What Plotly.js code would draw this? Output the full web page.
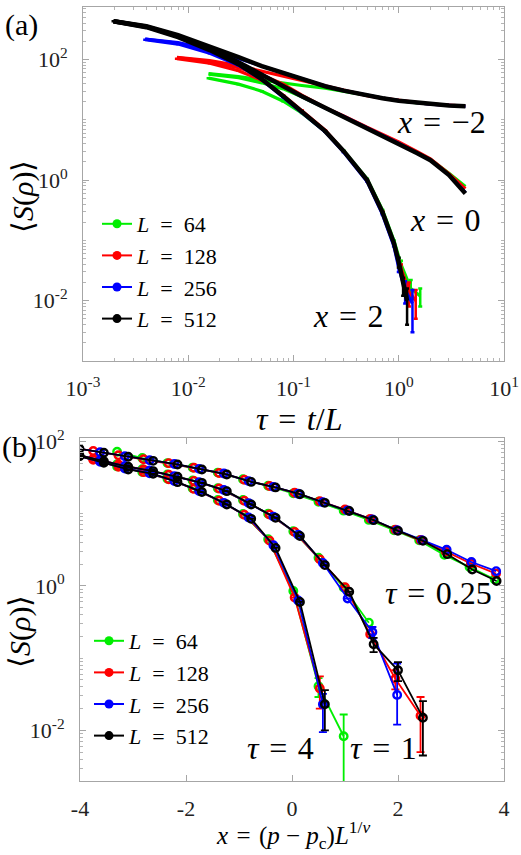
<!DOCTYPE html>
<html>
<head>
<meta charset="utf-8">
<script src="https://cdn.plot.ly/plotly-3.0.1.min.js"></script>
<style>
  html, body { margin: 0; padding: 0; background: #fff; }
  #fig { width: 521px; height: 855px; }
</style>
</head>
<body>
<div id="fig"></div>
<script>
// ---------- panel (a): <S(rho)> versus tau = t/L ----------
const sizes = [64, 128, 256, 512];
const colors = ['#00ee00', '#ff0000', '#0000ff', '#000000'];

// L = 64
const tau64 = [0.0156, 0.03, 0.05, 0.08, 0.12, 0.2, 0.3, 0.5, 0.7, 1, 1.5, 2, 3, 4.3];
const sA64_xm2 = [58.2, 52, 45.5, 40.5, 37, 33.4, 29.6, 25.0, 22.8, 20.7, 19.1, 18.1, 17.3, 16.9];
const sA64_x0 = [57, 50, 41, 32.5, 24, 15.6, 11.2, 7.3, 5.5, 4.1, 2.85, 2.2, 1.3, 0.78];
const tau64_x2 = [0.0156, 0.03, 0.05, 0.08, 0.12, 0.2, 0.3, 0.5, 0.7, 0.9, 1.05, 1.3, 1.6];
const sA64_x2 = [49, 39, 29.8, 20.3, 13.0, 6.4, 3.05, 1.05, 0.32, 0.1, 0.04, 0.016, 0.012];
const eA64_x2 = [null, null, null, null, null, null, null, null, null, null, 0.006, 0.006, 0.004];

// L = 128
const tau128 = [0.0078, 0.016, 0.03, 0.05, 0.08, 0.12, 0.2, 0.3, 0.5, 0.7, 1, 1.5, 2, 3, 4.3];
const sA128_xm2 = [108, 95.5, 78.9, 64, 53.8, 45.4, 36, 30.4, 25.2, 22.9, 20.8, 19.2, 18.2, 17.3, 16.8];
const sA128_x0 = [107, 92, 73.1, 55, 38.9, 25.6, 15.9, 11.6, 7.5, 5.7, 4.3, 2.95, 2.25, 1.28, 0.72];
const tau128_x2 = [0.0078, 0.016, 0.03, 0.05, 0.08, 0.12, 0.2, 0.3, 0.5, 0.7, 0.9, 1.05, 1.25, 1.45];
const sA128_x2 = [103, 86.9, 65.2, 45.4, 25.6, 14.4, 6.73, 3.0, 1.0, 0.30, 0.09, 0.035, 0.014, 0.010];
const eA128_x2 = [null, null, null, null, null, null, null, null, null, null, null, 0.005, 0.006, 0.005];

// L = 256
const tau256 = [0.0039, 0.008, 0.016, 0.03, 0.05, 0.08, 0.12, 0.2, 0.3, 0.5, 0.7, 1, 1.5, 2, 3, 4.3];
const sA256_xm2 = [217, 190, 146, 103, 76, 59, 47, 36.2, 30.5, 25.2, 22.9, 20.8, 19.1, 18.1, 17.3, 16.7];
const sA256_x0 = [217, 186, 137, 89, 56.5, 35.8, 24.3, 15.7, 11.4, 7.3, 5.5, 4.05, 2.8, 2.15, 1.22, 0.62];
const tau256_x2 = [0.0039, 0.008, 0.016, 0.03, 0.05, 0.08, 0.12, 0.2, 0.3, 0.5, 0.7, 0.9, 1.0, 1.15, 1.35];
const sA256_x2 = [213, 180, 127, 80.4, 46.2, 23.7, 13.5, 6.3, 2.9, 0.95, 0.27, 0.08, 0.035, 0.015, 0.009];
const eA256_x2 = [null, null, null, null, null, null, null, null, null, null, null, null, 0.005, 0.006, 0.006];

// L = 512
const tau512 = [0.00195, 0.004, 0.008, 0.016, 0.03, 0.05, 0.08, 0.12, 0.2, 0.3, 0.5, 0.7, 1, 1.5, 2, 3, 4.3];
const sA512_xm2 = [431, 357, 253, 166, 109, 77.4, 59.3, 47.1, 36.0, 30.4, 25.1, 22.8, 20.7, 19.1, 18.1, 17.3, 16.8];
const sA512_x0 = [431, 350, 243, 154, 90.2, 57.0, 36.1, 24.6, 15.9, 11.5, 7.40, 5.56, 4.09, 2.79, 2.14, 1.21, 0.6];
const tau512_x2 = [0.00195, 0.004, 0.008, 0.016, 0.03, 0.05, 0.08, 0.12, 0.2, 0.3, 0.5, 0.7, 0.9, 1.0, 1.1, 1.2];
const sA512_x2 = [431, 343, 234, 143, 83.6, 47.1, 24.6, 13.9, 6.48, 3.02, 1.0, 0.294, 0.090, 0.0435, 0.0181, 0.010];
const eA512_x2 = [null, null, null, null, null, null, null, null, null, null, null, null, null, 0.008, 0.006, 0.006];

// ---------- panel (b): <S(rho)> versus scaling variable x ----------
const xs64 = [-3.3, -2.825, -2.35, -1.875, -1.4, -0.925, -0.45, 0.025, 0.5, 0.975, 1.45, 1.925, 2.4, 2.875, 3.35, 3.825];
const sB64_t025 = [72, 58.9, 50.1, 43.4, 37.0, 29.9, 24.3, 19.1, 14.6, 11.0, 8.2, 5.9, 4.27, 2.69, 1.82, 1.23];
const sB64_t1 = [48.3, 41.2, 34.9, 28.8, 22.5, 15.5, 9.95, 5.73, 2.45, 0.95, 0.31, null, null, null, null, null];
const sB64_t4 = [45.1, 37.8, 30.4, 22.4, 15.5, 9.9, 4.43, 0.85, 0.041, 0.0083, null, null, null, null, null, null];
const eB64_t4 = [null, null, null, null, null, null, null, null, 0.012, 0.0083, null, null, null, null, null, null];
const eB64_t4m = [null, null, null, null, null, null, null, null, 0.012, 0.00825, null, null, null, null, null, null];

const xs128 = [-4.225, -3.75, -3.275, -2.8, -2.325, -1.85, -1.375, -0.9, -0.425, 0.05, 0.525, 1.0, 1.475, 1.95, 2.425, 2.9, 3.375, 3.85];
const sB128_t025 = [83.8, 73.5, 64.4, 56.6, 50.0, 43.1, 36.6, 29.5, 24.1, 19.5, 14.9, 11.4, 8.47, 6.0, 4.33, 3.0, 2.04, 1.48];
const sB128_t1 = [69.7, 57.7, 47.9, 40.8, 34.5, 28.4, 22.3, 15.1, 9.72, 5.56, 2.33, 0.96, 0.214, 0.052, 0.016, null, null, null];
const eB128_t1 = [null, null, null, null, null, null, null, null, null, null, null, null, null, 0.016, 0.013, null, null, null];
const eB128_t1m = [null, null, null, null, null, null, null, null, null, null, null, null, null, 0.015, 0.011, null, null, null];
const sB128_t4 = [69, 55.5, 44.6, 37.5, 30.0, 22.0, 15.1, 9.64, 4.24, 0.69, 0.038, null, null, null, null, null, null, null];
const eB128_t4 = [null, null, null, null, null, null, null, null, null, null, 0.018, null, null, null, null, null, null, null];

const xs256 = [-4.09, -3.62, -3.153, -2.686, -2.219, -1.752, -1.285, -0.818, -0.351, 0.116, 0.583, 1.05, 1.517, 1.984, 2.451, 2.918, 3.385, 3.852];
const sB256_t025 = [80.7, 70.8, 62.3, 54.8, 48.7, 41.7, 35.9, 28.2, 23.5, 18.9, 14.4, 11.1, 8.3, 5.9, 4.3, 3.16, 2.14, 1.6];
const sB256_t1 = [66.1, 54.8, 45.6, 39.5, 33.1, 27.3, 21.2, 14.0, 9.1, 5.1, 2.08, 0.67, 0.23, 0.031, null, null, null, null];
const eB256_t1 = [null, null, null, null, null, null, null, null, null, null, null, null, 0.04, 0.053, null, null, null, null];
const eB256_t1m = [null, null, null, null, null, null, null, null, null, null, null, null, 0.04, 0.019, null, null, null, null];
const sB256_t4 = [64.9, 52.2, 42.2, 36.3, 28.2, 20.6, 14.1, 8.87, 3.65, 0.63, 0.023, null, null, null, null, null, null, null];
const eB256_t4 = [null, null, null, null, null, null, null, null, null, null, 0.009, null, null, null, null, null, null, null];
const eB256_t4m = [null, null, null, null, null, null, null, null, null, null, 0.0135, null, null, null, null, null, null, null];

const xs512 = [-4.01, -3.55, -3.09, -2.62, -2.16, -1.70, -1.23, -0.77, -0.31, 0.15, 0.62, 1.08, 1.54, 2.0, 2.47, 2.93, 3.40, 3.86];
const sB512_t025 = [78.9, 69.5, 61.2, 53.8, 48.0, 40.9, 34.9, 27.5, 23.1, 18.6, 14.1, 10.9, 8.13, 5.78, 4.20, 2.75, 1.69, 1.17];
const sB512_t1 = [64, 53.3, 44.5, 38.8, 32.4, 26.7, 20.5, 13.4, 8.75, 4.9, 1.94, 0.83, 0.156, 0.068, 0.015, null, null, null];
const eB512_t1 = [null, null, null, null, null, null, null, null, null, null, null, null, 0.035, 0.02, 0.0105, null, null, null];
const sB512_t4 = [62.5, 50.6, 40.9, 35.6, 27.3, 19.9, 13.4, 8.47, 3.36, 0.6, 0.023, null, null, null, null, null, null, null];
const eB512_t4 = [null, null, null, null, null, null, null, null, null, null, 0.013, null, null, null, null, null, null, null];

// ---------- tick labels ----------
const xTickValsA = [0.001, 0.01, 0.1, 1, 10];
const xTickTextA = ['10<sup>-3</sup>', '10<sup>-2</sup>', '10<sup>-1</sup>', '10<sup>0</sup>', '10<sup>1</sup>'];
const yTickVals = [0.01, 1, 100];
const yTickText = ['10<sup>-2</sup>', '10<sup>0</sup>', '10<sup>2</sup>'];
const xTickValsB = [-4, -2, 0, 2, 4];
const xTickTextB = ['-4', '-2', '0', '2', '4'];

// ---------- styling helpers ----------
const FONT = '"Liberation Serif", serif';
const W = 521, H = 855;
const px = (x, y) => ({ x: x / W, y: 1 - y / H });
const SP = '\u2004';   // spacing around "=" in the math labels
const LSP = '\u2002';  // spacing in legend labels

function errSpec(plus, minus, color, thick, width) {
  if (!plus) return { visible: false };
  const e = { type: 'data', array: plus, color: color, thickness: thick, width: width, visible: true };
  if (minus) { e.symmetric = false; e.arrayminus = minus; }
  return e;
}

const traces = [];

// panel (a) curves, one trace per (L, x)
const panelA = [
  { tau: tau64, m2: sA64_xm2, z: sA64_x0, tau2: tau64_x2, p2: sA64_x2, e2: eA64_x2 },
  { tau: tau128, m2: sA128_xm2, z: sA128_x0, tau2: tau128_x2, p2: sA128_x2, e2: eA128_x2 },
  { tau: tau256, m2: sA256_xm2, z: sA256_x0, tau2: tau256_x2, p2: sA256_x2, e2: eA256_x2 },
  { tau: tau512, m2: sA512_xm2, z: sA512_x0, tau2: tau512_x2, p2: sA512_x2, e2: eA512_x2 }
];
panelA.forEach((d, i) => {
  const c = colors[i];
  const w = i === 3 ? 4.5 : 3.2;
  const base = { xaxis: 'x', yaxis: 'y', mode: 'lines', showlegend: false, hoverinfo: 'skip',
                 line: { color: c, width: w } };
  traces.push(Object.assign({}, base, { x: d.tau, y: d.m2 }));
  traces.push(Object.assign({}, base, { x: d.tau, y: d.z }));
  traces.push(Object.assign({}, base, { x: d.tau2, y: d.p2,
    error_y: errSpec(d.e2, null, c, 2.5, 2) }));
});

// panel (b) curves, one trace per (L, tau)
const panelB = [
  { x: xs64, a: sB64_t025, b: sB64_t1, c: sB64_t4, eb: null, ebm: null, ec: eB64_t4, ecm: eB64_t4m },
  { x: xs128, a: sB128_t025, b: sB128_t1, c: sB128_t4, eb: eB128_t1, ebm: eB128_t1m, ec: eB128_t4, ecm: null },
  { x: xs256, a: sB256_t025, b: sB256_t1, c: sB256_t4, eb: eB256_t1, ebm: eB256_t1m, ec: eB256_t4, ecm: eB256_t4m },
  { x: xs512, a: sB512_t025, b: sB512_t1, c: sB512_t4, eb: eB512_t1, ebm: null, ec: eB512_t4, ecm: null }
];
panelB.forEach((d, i) => {
  const c = colors[i];
  const base = { xaxis: 'x2', yaxis: 'y2', mode: 'lines+markers', showlegend: false, hoverinfo: 'skip',
                 line: { color: c, width: 1.8 },
                 marker: { symbol: 'circle-open', size: 7.5, color: c, line: { color: c, width: 2.4 } } };
  traces.push(Object.assign({}, base, { x: d.x, y: d.a }));
  traces.push(Object.assign({}, base, { x: d.x, y: d.b, error_y: errSpec(d.eb, d.ebm, c, 1.8, 4) }));
  traces.push(Object.assign({}, base, { x: d.x, y: d.c, error_y: errSpec(d.ec, d.ecm, c, 1.8, 4) }));
});

// legend entries for both panels
sizes.forEach((L, i) => {
  ['legend', 'legend2'].forEach((lg, k) => {
    traces.push({
      x: [null], y: [null], xaxis: k ? 'x2' : 'x', yaxis: k ? 'y2' : 'y',
      mode: 'lines+markers', name: '<i>L</i>' + LSP + '=' + LSP + L, legend: lg,
      line: { color: colors[i], width: 2 },
      marker: { color: colors[i], size: 9, symbol: 'circle' }
    });
  });
});

const axisBase = {
  showline: true, linecolor: '#a6a6a6', linewidth: 1, mirror: 'ticks',
  ticks: 'inside', ticklen: 6, tickcolor: '#a6a6a6', tickwidth: 1,
  showgrid: false, zeroline: false, fixedrange: true,
  tickfont: { family: FONT, size: 22, color: '#222' }
};
const minorLog = { ticks: 'inside', ticklen: 3, tickcolor: '#b5b5b5', dtick: 'D1', showgrid: false };

const legendBase = {
  xanchor: 'left', yanchor: 'top', bgcolor: 'rgba(0,0,0,0)', borderwidth: 0,
  itemwidth: 30, tracegroupgap: 0, font: { family: FONT, size: 22, color: '#000' }
};

const layout = {
  width: W, height: H,
  margin: { l: 0, r: 0, t: 0, b: 0 },
  paper_bgcolor: '#fff', plot_bgcolor: '#fff',
  font: { family: FONT, color: '#000' },
  xaxis: Object.assign({}, axisBase, {
    domain: [83 / W, 504 / W], anchor: 'y', type: 'log', range: [-3, 1],
    tickmode: 'array', tickvals: xTickValsA, ticktext: xTickTextA, ticklabelstandoff: 8,
    minor: minorLog
  }),
  yaxis: Object.assign({}, axisBase, {
    domain: [1 - 361 / H, 1 - 7 / H], anchor: 'x', type: 'log', range: [-3, 2.87],
    tickmode: 'array', tickvals: yTickVals, ticktext: yTickText, ticklabelstandoff: 10,
    minor: minorLog
  }),
  xaxis2: Object.assign({}, axisBase, {
    domain: [80 / W, 504 / W], anchor: 'y2', range: [-4, 4],
    tickmode: 'array', tickvals: xTickValsB, ticktext: xTickTextB, ticklabelstandoff: 8
  }),
  yaxis2: Object.assign({}, axisBase, {
    domain: [1 - 781 / H, 1 - 438 / H], anchor: 'x2', type: 'log', range: [-2.7, 2.047],
    tickmode: 'array', tickvals: yTickVals, ticktext: yTickText, ticklabelstandoff: 10,
    minor: minorLog
  }),
  legend: Object.assign({}, legendBase, { x: 97 / W, y: 1 - 203 / H }),
  legend2: Object.assign({}, legendBase, { x: 89 / W, y: 1 - 620 / H }),
  annotations: []
};

// text placed in figure pixels
const texts = [
  { t: '(a)', x: 21, y: 25, s: 30 },
  { t: '(b)', x: 19, y: 447, s: 30 },
  { t: '<i>τ</i>' + SP + '=' + SP + '<i>t</i>/<i>L</i>', x: 299, y: 419, s: 32 },
  { t: '⟨<i>S</i>(<i>ρ</i>)⟩', x: 23, y: 197, s: 30, rot: -90 },
  { t: '<i>x</i>' + SP + '=' + SP + '(<i>p</i> − <i>p</i><sub>c</sub>)<i>L</i><sup>1/<i>ν</i></sup>', x: 293, y: 835, s: 25 },
  { t: '⟨<i>S</i>(<i>ρ</i>)⟩', x: 20, y: 632, s: 30, rot: -90 },
  { t: '<i>x</i>' + SP + '=' + SP + '−2', x: 441, y: 122, s: 32 },
  { t: '<i>x</i>' + SP + '=' + SP + '0', x: 445, y: 220, s: 32 },
  { t: '<i>x</i>' + SP + '=' + SP + '2', x: 348, y: 316, s: 32 },
  { t: '<i>τ</i>' + SP + '=' + SP + '0.25', x: 438, y: 593, s: 32 },
  { t: '<i>τ</i>' + SP + '=' + SP + '4', x: 280, y: 748, s: 32 },
  { t: '<i>τ</i>' + SP + '=' + SP + '1', x: 383, y: 748, s: 32 }
];
texts.forEach(a => {
  const p = px(a.x, a.y);
  layout.annotations.push({
    text: a.t, xref: 'paper', yref: 'paper', x: p.x, y: p.y,
    xanchor: 'center', yanchor: 'middle', showarrow: false,
    textangle: a.rot || 0, font: { family: FONT, size: a.s, color: '#000' }
  });
});

Plotly.newPlot('fig', traces, layout, { displayModeBar: false, staticPlot: true });
</script>
</body>
</html>
